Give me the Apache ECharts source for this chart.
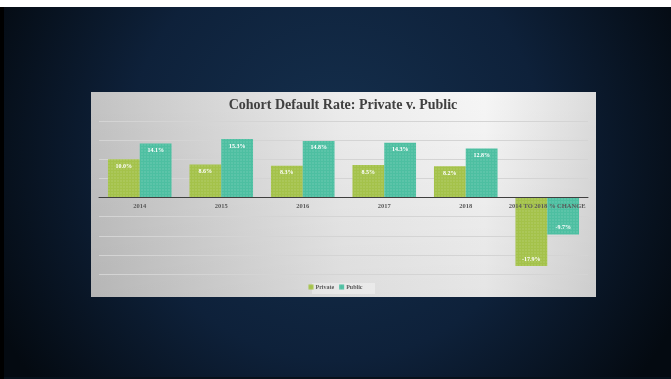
<!DOCTYPE html>
<html>
<head>
<meta charset="utf-8">
<style>
  html, body { margin: 0; padding: 0; background: #ffffff; }
  #chart { width: 671px; height: 379px; }
</style>
<script src="https://cdn.jsdelivr.net/npm/echarts@6/dist/echarts.min.js"></script>
</head>
<body>
<div id="chart"></div>
<script>
// Cohort default rates by year, plus the 2014-2018 change
const categories = ['2014', '2015', '2016', '2017', '2018', '2014 TO 2018 % CHANGE'];
const privateRates = [10.0, 8.6, 8.3, 8.5, 8.2, -17.9];
const publicRates = [14.1, 15.3, 14.8, 14.3, 12.8, -9.7];
const seriesNames = ['Private', 'Public'];

const SERIF = '"Liberation Serif", "DejaVu Serif", serif';
const GREEN = '#a4c24a';
const TEAL = '#4dbfa1';

const Y_MIN = -20, Y_MAX = 20;
const GRID_TOP = 121, GRID_BOTTOM = 105, CHART_H = 379;

// Fine dotted texture laid over each bar
const dotDecal = {
  symbol: 'rect',
  symbolSize: 0.6,
  color: 'rgba(255,255,255,0.28)',
  dashArrayX: [2, 1],
  dashArrayY: [2, 1],
  rotation: 0
};

function barLabel() {
  return {
    show: true,
    position: 'insideTop',
    distance: 4,
    color: '#ffffff',
    fontFamily: SERIF,
    fontWeight: 'bold',
    fontSize: 6,
    formatter: p => p.value.toFixed(1) + '%'
  };
}

// Negative values get their label at the far end of the bar
function toItems(values) {
  return values.map(v => v < 0
    ? { value: v, label: { position: 'insideBottom' } }
    : { value: v });
}

// Category axis sits on the zero line, labels included
const plotH = CHART_H - GRID_TOP - GRID_BOTTOM;
const zeroFromBottom = plotH * (0 - Y_MIN) / (Y_MAX - Y_MIN);

const chart = echarts.init(document.getElementById('chart'), null, { renderer: 'canvas' });

chart.setOption({
  animation: false,
  backgroundColor: {
    type: 'radial', x: 0.5, y: 0.4, r: 1.0,
    colorStops: [
      { offset: 0, color: '#15304e' },
      { offset: 0.55, color: '#0e213a' },
      { offset: 1, color: '#040a11' }
    ]
  },
  graphic: [
    // slide frame edges
    { type: 'rect', z: -100, shape: { x: 0, y: 0, width: 671, height: 7 }, style: { fill: '#ffffff' } },
    { type: 'rect', z: -100, shape: { x: 0, y: 7, width: 4, height: 372 }, style: { fill: '#000000' } },
    { type: 'rect', z: -100, shape: { x: 4, y: 377, width: 667, height: 2 }, style: { fill: '#07111b' } },
    // chart panel
    {
      type: 'rect', z: -90,
      shape: { x: 91, y: 92, width: 505, height: 205 },
      style: {
        fill: {
          type: 'linear', x: 0, y: 0, x2: 1, y2: 0,
          colorStops: [
            { offset: 0, color: '#c3c3c3' },
            { offset: 0.5, color: '#ededed' },
            { offset: 0.78, color: '#f6f6f6' },
            { offset: 1, color: '#dcdcdc' }
          ]
        }
      }
    },
    {
      type: 'rect', z: -89,
      shape: { x: 91, y: 92, width: 505, height: 205 },
      style: {
        fill: {
          type: 'linear', x: 0, y: 0, x2: 0, y2: 1,
          colorStops: [
            { offset: 0, color: 'rgba(0,0,0,0)' },
            { offset: 1, color: 'rgba(0,0,0,0.07)' }
          ]
        }
      }
    },
    // soft backing behind the legend
    { type: 'rect', z: -80, shape: { x: 312, y: 283, width: 63, height: 11 }, style: { fill: 'rgba(255,255,255,0.35)' } }
  ],
  title: {
    text: 'Cohort Default Rate: Private v. Public',
    left: 343,
    textAlign: 'center',
    top: 98,
    padding: 0,
    textStyle: {
      fontFamily: SERIF,
      fontWeight: 'bold',
      fontSize: 14,
      color: '#404040'
    }
  },
  legend: {
    data: seriesNames,
    left: 'center',
    top: 284,
    padding: 0,
    itemWidth: 5,
    itemHeight: 5,
    itemGap: 5,
    icon: 'rect',
    textStyle: {
      fontFamily: SERIF,
      fontWeight: 'bold',
      fontSize: 6,
      color: '#595959',
      padding: [0, 0, 0, -3]
    }
  },
  grid: { left: 99, right: 83, top: GRID_TOP, bottom: GRID_BOTTOM, containLabel: false },
  xAxis: {
    type: 'category',
    data: categories,
    position: 'bottom',
    offset: -zeroFromBottom,
    z: 10,
    axisTick: { show: false },
    axisLine: { show: true, onZero: false, lineStyle: { color: '#3f3f3f', width: 1 } },
    axisLabel: {
      interval: 0,
      margin: 5,
      color: '#595959',
      fontFamily: SERIF,
      fontWeight: 'bold',
      fontSize: 6.5
    }
  },
  yAxis: {
    type: 'value',
    min: Y_MIN,
    max: Y_MAX,
    interval: 5,
    axisLine: { show: false },
    axisTick: { show: false },
    axisLabel: { show: false },
    splitLine: { show: true, lineStyle: { color: '#d4d4d4', width: 1 } }
  },
  series: [
    {
      name: seriesNames[0],
      type: 'bar',
      data: toItems(privateRates),
      barGap: '0%',
      barCategoryGap: '22%',
      itemStyle: { color: GREEN, decal: dotDecal },
      label: barLabel()
    },
    {
      name: seriesNames[1],
      type: 'bar',
      data: toItems(publicRates),
      itemStyle: { color: TEAL, decal: dotDecal },
      label: barLabel()
    }
  ]
});
</script>
</body>
</html>
